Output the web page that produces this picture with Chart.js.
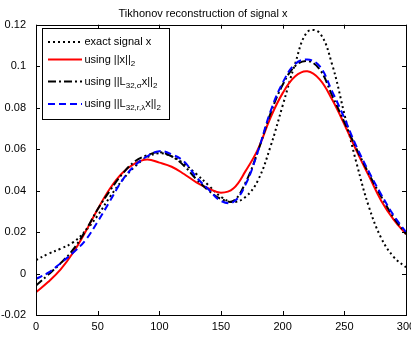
<html>
<head>
<script src="https://cdn.jsdelivr.net/npm/chart.js@4.4.0/dist/chart.umd.min.js"></script>
<style>
  body { margin: 0; background: #fff; overflow: hidden; }
</style>
</head>
<body>
<canvas id="myChart" width="411" height="338"></canvas>
<script>
var xs = [0, 10, 20, 30, 40, 50, 60, 70, 80, 90, 100, 110, 120, 130, 140, 150,
          160, 170, 180, 190, 200, 210, 220, 230, 240, 250, 260, 270, 280, 290, 300];

var exactSignal = [0.0065, 0.0095, 0.012, 0.015, 0.0205, 0.028, 0.037, 0.045, 0.0515, 0.056, 0.058,
                   0.0565, 0.053, 0.048, 0.0425, 0.037, 0.0345, 0.037, 0.045, 0.061, 0.081,
                   0.101, 0.1165, 0.116, 0.101, 0.077, 0.053, 0.032, 0.017, 0.008, 0.003];
var normX = [-0.009, -0.004, 0.002, 0.010, 0.020, 0.031, 0.041, 0.0485, 0.053, 0.055, 0.0535,
             0.0515, 0.048, 0.044, 0.041, 0.039, 0.041, 0.0495, 0.060, 0.075, 0.087,
             0.095, 0.0975, 0.0936, 0.084, 0.072, 0.059, 0.047, 0.035, 0.026, 0.019];
var normLsigma = [-0.0058, -0.0005, 0.005, 0.0115, 0.0205, 0.031, 0.040, 0.048, 0.054, 0.057, 0.0585,
                  0.0565, 0.052, 0.0455, 0.040, 0.036, 0.035, 0.044, 0.059, 0.077, 0.091,
                  0.100, 0.1025, 0.0985, 0.086, 0.073, 0.060, 0.048, 0.037, 0.027, 0.019];
var normLlambda = [-0.0026, 0.0004, 0.005, 0.010, 0.016, 0.025, 0.035, 0.045, 0.052, 0.0565, 0.059,
                   0.0575, 0.054, 0.0465, 0.0405, 0.035, 0.0345, 0.043, 0.059, 0.078, 0.092,
                   0.101, 0.1032, 0.100, 0.088, 0.075, 0.061, 0.049, 0.038, 0.028, 0.020];

var xTicks = [0, 50, 100, 150, 200, 250, 300];
var yTicks = [-0.02, 0, 0.02, 0.04, 0.06, 0.08, 0.1, 0.12];

function pairs(ys) {
    return xs.map(function (x, i) { return { x: x, y: ys[i] }; });
}

var FONT = '"Liberation Sans", Arial, Helvetica, sans-serif';

// MATLAB style box with inward ticks on all four sides
var boxPlugin = {
    id: 'box',
    afterDatasetsDraw: function (chart) {
        var ctx = chart.ctx, a = chart.chartArea;
        var sx = chart.scales.x, sy = chart.scales.y;
        ctx.save();
        ctx.strokeStyle = '#000';
        ctx.lineWidth = 1;
        ctx.beginPath();
        xTicks.forEach(function (v) {
            var px = Math.round(sx.getPixelForValue(v)) + 0.5;
            ctx.moveTo(px, a.bottom); ctx.lineTo(px, a.bottom - 4);
            ctx.moveTo(px, a.top); ctx.lineTo(px, a.top + 4);
        });
        yTicks.forEach(function (v) {
            var py = Math.round(sy.getPixelForValue(v)) + 0.5;
            ctx.moveTo(a.left, py); ctx.lineTo(a.left + 4, py);
            ctx.moveTo(a.right, py); ctx.lineTo(a.right - 4, py);
        });
        ctx.stroke();
        ctx.strokeRect(Math.round(a.left) + 0.5, Math.round(a.top) + 0.5,
                       Math.round(a.right - a.left), Math.round(a.bottom - a.top));
        ctx.restore();
    }
};

// legend with TeX-like subscripts
var legendRows = [
    { dash: [2, 3], color: '#000', parts: [['exact signal x', 0]] },
    { dash: [], color: '#f00', parts: [['using ||x||', 0], ['2', 1]] },
    { dash: [8, 3, 2, 3], color: '#000', parts: [['using ||L', 0], ['32,\u03c3', 1], ['x||', 0], ['2', 1]] },
    { dash: [7, 4], color: '#00f', parts: [['using ||L', 0], ['32,r,\u03bb', 1], ['x||', 0], ['2', 1]] }
];
var rowY = [42, 59.5, 81.5, 104];

var legendPlugin = {
    id: 'texLegend',
    afterDraw: function (chart) {
        var ctx = chart.ctx;
        ctx.save();
        ctx.fillStyle = '#fff';
        ctx.fillRect(42.5, 28.5, 127, 91);
        ctx.strokeStyle = '#000';
        ctx.lineWidth = 1;
        ctx.setLineDash([]);
        ctx.strokeRect(42.5, 28.5, 127, 91);
        legendRows.forEach(function (row, i) {
            var y = rowY[i];
            ctx.beginPath();
            ctx.setLineDash(row.dash);
            ctx.strokeStyle = row.color;
            ctx.lineWidth = 2;
            ctx.moveTo(48, y);
            ctx.lineTo(82, y);
            ctx.stroke();
            ctx.setLineDash([]);
            var x = 84.5;
            ctx.fillStyle = '#000';
            ctx.textBaseline = 'middle';
            row.parts.forEach(function (p) {
                if (p[1]) {
                    ctx.font = '8px ' + FONT;
                    ctx.fillText(p[0], x, y + 4);
                } else {
                    ctx.font = '11px ' + FONT;
                    ctx.fillText(p[0], x, y);
                }
                x += ctx.measureText(p[0]).width;
            });
        });
        ctx.restore();
    }
};

var ctx = document.getElementById('myChart').getContext('2d');
var chart = new Chart(ctx, {
    type: 'line',
    data: {
        datasets: [
            { label: 'exact signal x', data: pairs(exactSignal), borderColor: '#000',
              borderDash: [2, 3], borderWidth: 2, order: 4 },
            { label: 'using ||x||2', data: pairs(normX), borderColor: '#f00',
              borderWidth: 2, order: 3 },
            { label: 'using ||L32,sx||2', data: pairs(normLsigma), borderColor: '#000',
              borderDash: [8, 3, 2, 3], borderWidth: 2, order: 2 },
            { label: 'using ||L32,r,lx||2', data: pairs(normLlambda), borderColor: '#00f',
              borderDash: [7, 4], borderWidth: 2, order: 1 }
        ]
    },
    options: {
        responsive: false,
        animation: false,
        devicePixelRatio: 1,
        layout: { padding: { left: 0, right: 5, top: 0, bottom: 0 } },
        elements: { point: { radius: 0 }, line: { tension: 0.4, fill: false } },
        plugins: {
            legend: { display: false },
            tooltip: { enabled: false },
            title: {
                display: true,
                text: 'Tikhonov reconstruction of signal x',
                color: '#000',
                font: { family: FONT, size: 11, weight: 'normal' },
                padding: { top: 7, bottom: 4.5 }
            }
        },
        scales: {
            x: {
                type: 'linear', min: 0, max: 300,
                grid: { display: false, drawTicks: false },
                border: { display: false },
                afterBuildTicks: function (s) { s.ticks = xTicks.map(function (v) { return { value: v }; }); },
                afterFit: function (s) { s.paddingLeft = 0; s.paddingRight = 0; s.height = 23; },
                ticks: { color: '#000', padding: 5, maxRotation: 0, autoSkip: false,
                         font: { family: FONT, size: 11 } }
            },
            y: {
                min: -0.02, max: 0.12,
                grid: { display: false, drawTicks: false },
                border: { display: false },
                afterBuildTicks: function (s) { s.ticks = yTicks.map(function (v) { return { value: v }; }); },
                afterFit: function (s) { s.width = 36; },
                ticks: { color: '#000', padding: 10, autoSkip: false,
                         font: { family: FONT, size: 11 },
                         callback: function (v) { return String(+v.toFixed(2)); } }
            }
        }
    },
    plugins: [boxPlugin, legendPlugin]
});
</script>
</body>
</html>
